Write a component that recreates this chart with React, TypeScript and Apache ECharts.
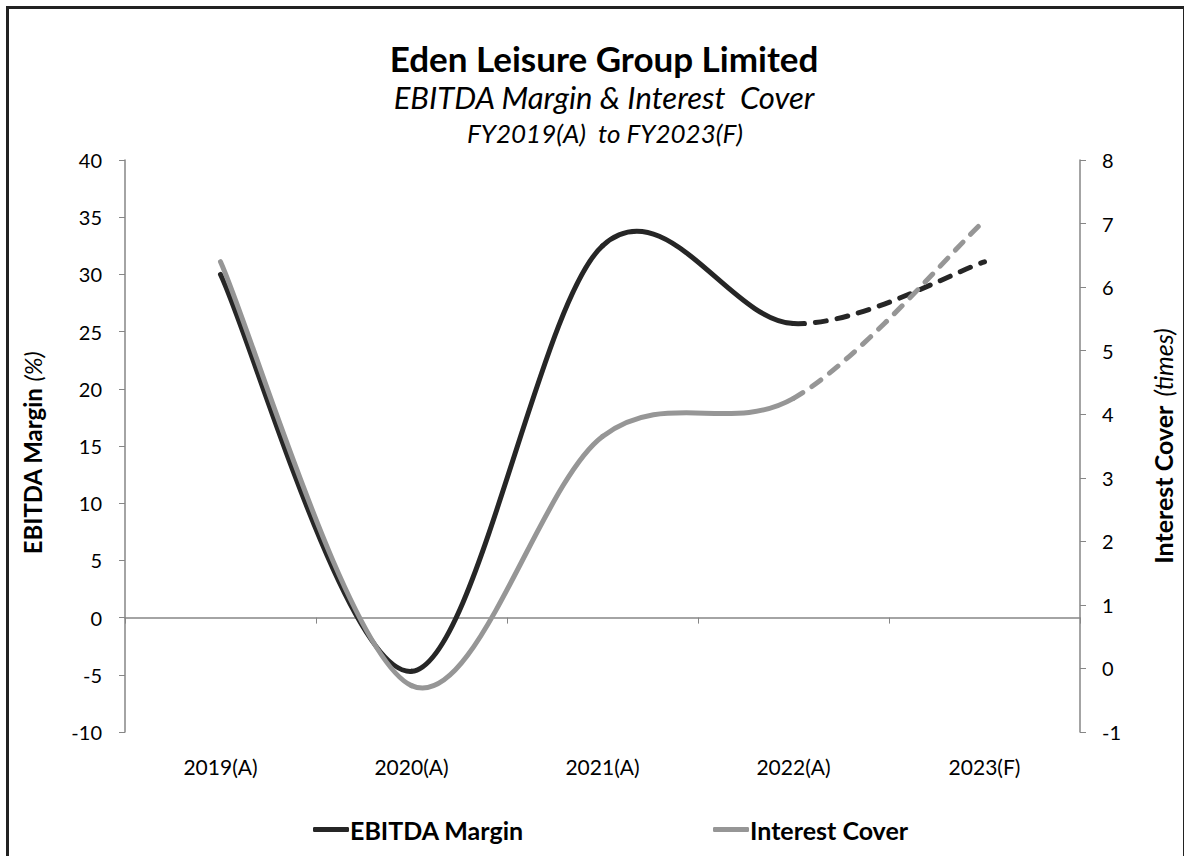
import React, { useEffect, useRef } from "react";
import * as echarts from "echarts";

const categories = ["2019(A)", "2020(A)", "2021(A)", "2022(A)", "2023(F)"];
const ebitdaMargin = [30, -4.7, 32.5, 25.7, 31.1];
const interestCover = [6.4, -0.27, 3.65, 4.25, 7.05];
// index of first forecast category (segment ending there is dashed)
const forecastFrom = 4;

const FONT = "Lato";
const DARK = "#262626";
const GREY = "#969696";
const AXIS = "#868686";

function makeRenderItem(values: number[], color: string) {
  return (params: any, api: any) => {
    const i = params.dataIndex;
    if (i >= values.length - 1) return null;
    const pts = values.map((v, k) => api.coord([k, v]));
    const p = (k: number) => pts[Math.max(0, Math.min(pts.length - 1, k))];
    const p0 = p(i - 1), p1 = p(i), p2 = p(i + 1), p3 = p(i + 2);
    const cp1 = [p1[0] + (p2[0] - p0[0]) / 6, p1[1] + (p2[1] - p0[1]) / 6];
    const cp2 = [p2[0] - (p3[0] - p1[0]) / 6, p2[1] - (p3[1] - p1[1]) / 6];
    const dashed = i + 1 >= forecastFrom;
    return {
      type: "bezierCurve",
      shape: {
        x1: p1[0], y1: p1[1],
        cpx1: cp1[0], cpy1: cp1[1],
        cpx2: cp2[0], cpy2: cp2[1],
        x2: p2[0], y2: p2[1],
      },
      style: {
        fill: "none",
        stroke: color,
        lineWidth: 5,
        lineCap: "round",
        lineDash: dashed ? [11, 11] : null,
      },
    };
  };
}

export default function App() {
  const ref = useRef<HTMLDivElement>(null);
  useEffect(() => {
    const chart = echarts.init(ref.current!, null, { renderer: "svg" });
    chart.setOption({
      animation: false,
      backgroundColor: "#ffffff",
      textStyle: { fontFamily: FONT },
      title: [
        {
          text: "Eden Leisure Group Limited",
          left: 599,
          textAlign: "center",
          top: 35,
          textStyle: { fontFamily: FONT, fontWeight: "bold", fontSize: 35, color: "#000" },
        },
        {
          text: "EBITDA Margin & Interest  Cover",
          left: 599,
          textAlign: "center",
          top: 76,
          textStyle: { fontFamily: FONT, fontStyle: "italic", fontWeight: "normal", fontSize: 31, color: "#000" },
        },
        {
          text: "FY2019(A)  to FY2023(F)",
          left: 600,
          textAlign: "center",
          top: 115,
          textStyle: { fontFamily: FONT, fontStyle: "italic", fontWeight: "normal", fontSize: 26, color: "#000" },
        },
      ],
      legend: [
        {
          data: ["EBITDA Margin"],
          left: 308,
          top: 812,
          icon: "roundRect",
          itemWidth: 36,
          itemHeight: 5,
          textStyle: { fontFamily: FONT, fontWeight: "bold", fontSize: 25, color: "#000", padding: [0, 0, 0, -4] },
        },
        {
          data: ["Interest Cover"],
          left: 708,
          top: 812,
          icon: "roundRect",
          itemWidth: 36,
          itemHeight: 5,
          textStyle: { fontFamily: FONT, fontWeight: "bold", fontSize: 25, color: "#000", padding: [0, 0, 0, -4] },
        },
      ],
      grid: { left: 125, right: 104, top: 160, bottom: 124, containLabel: false },
      xAxis: [
        {
          type: "category",
          data: categories,
          boundaryGap: true,
          axisLine: { show: true, onZero: true, lineStyle: { color: AXIS, width: 1.5 } },
          axisTick: { show: true, length: 6, lineStyle: { color: AXIS } },
          axisLabel: { show: false },
          splitLine: { show: false },
        },
        {
          type: "category",
          data: categories,
          position: "bottom",
          boundaryGap: true,
          axisLine: { show: false, onZero: false },
          axisTick: { show: false },
          axisLabel: { show: true, margin: 24, fontFamily: FONT, fontSize: 21, color: "#000" },
          splitLine: { show: false },
        },
      ],
      yAxis: [
        {
          type: "value",
          min: -10,
          max: 40,
          interval: 5,
          position: "left",
          name: "{b|EBITDA Margin}  {i|(%)}",
          nameLocation: "middle",
          nameRotate: 90,
          nameGap: 81,
          nameTextStyle: {
            padding: [0, 14, 0, 0],
            rich: {
              b: { fontFamily: FONT, fontWeight: "bold", fontSize: 24, color: "#000" },
              i: { fontFamily: FONT, fontStyle: "italic", fontSize: 24, color: "#000" },
            },
          },
          axisLine: { show: true, lineStyle: { color: AXIS, width: 1.5 } },
          axisTick: { show: true, length: 6, lineStyle: { color: AXIS } },
          axisLabel: { margin: 23, fontFamily: FONT, fontSize: 20, color: "#000" },
          splitLine: { show: false },
        },
        {
          type: "value",
          min: -1,
          max: 8,
          interval: 1,
          position: "right",
          name: "{b|Interest Cover}   {i|(times)}",
          nameLocation: "middle",
          nameRotate: 90,
          nameGap: 70,
          nameTextStyle: {
            rich: {
              b: { fontFamily: FONT, fontWeight: "bold", fontSize: 25, color: "#000" },
              i: { fontFamily: FONT, fontStyle: "italic", fontSize: 25, color: "#000" },
            },
          },
          axisLine: { show: true, lineStyle: { color: AXIS, width: 1.5 } },
          axisTick: { show: true, length: 6, lineStyle: { color: AXIS } },
          axisLabel: { margin: 22, fontFamily: FONT, fontSize: 20, color: "#000" },
          splitLine: { show: false },
        },
      ],
      series: [
        {
          name: "EBITDA Margin",
          type: "custom",
          xAxisIndex: 0,
          yAxisIndex: 0,
          data: ebitdaMargin.map((v, k) => [k, v]),
          encode: { x: 0, y: 1 },
          renderItem: makeRenderItem(ebitdaMargin, DARK),
          itemStyle: { color: DARK },
          z: 2,
        },
        {
          name: "Interest Cover",
          type: "custom",
          xAxisIndex: 0,
          yAxisIndex: 1,
          data: interestCover.map((v, k) => [k, v]),
          encode: { x: 0, y: 1 },
          renderItem: makeRenderItem(interestCover, GREY),
          itemStyle: { color: GREY },
          z: 3,
        },
      ],
      graphic: [
        {
          type: "rect",
          shape: { x: 7.5, y: 7.5, width: 1177, height: 880 },
          style: { fill: "none", stroke: "#222", lineWidth: 3 },
          silent: true,
          z: 100,
        },
      ],
    });
    return () => chart.dispose();
  }, []);
  return (
    <div
      ref={ref}
      style={{ position: "fixed", left: 0, top: 0, width: 1184, height: 856, background: "#fff" }}
    />
  );
}
